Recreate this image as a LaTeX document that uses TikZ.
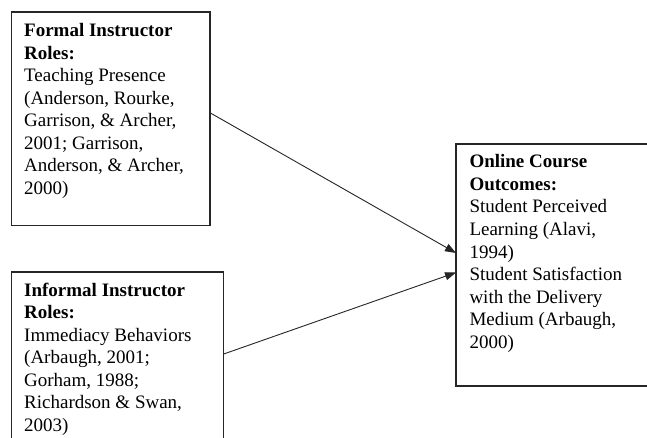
\documentclass[tikz,border=0pt]{standalone}
\usepackage{fontspec}
\setmainfont{Liberation Serif}
\usetikzlibrary{arrows.meta}
\tikzset{
  boxnode/.style={draw=black!85, line width=1.1pt, inner sep=0pt, outer sep=0pt, anchor=north west},
  txtnode/.style={inner sep=0pt, anchor=base west, font=\fontsize{19}{22.5}\selectfont},
  conn/.style={draw=black!85, line width=0.9pt, -{Triangle[length=11pt,width=8pt]}}
}
\newcommand{\boxtext}[1]{\parbox[t]{220pt}{\raggedright #1}}
\begin{document}
\begin{tikzpicture}[x=1pt,y=-1pt]
\fill[white] (0,0) rectangle (647,438);
\useasboundingbox (0,0) rectangle (647,438);
\clip (0,0) rectangle (647,438);
\node[boxnode, minimum width=198.5pt, minimum height=213.5pt] (f) at (11.5,12) {};
\node[boxnode, minimum width=212.2pt, minimum height=180pt] (i) at (11.5,272) {};
\node[boxnode, minimum width=230pt, minimum height=242pt] (o) at (456,144) {};
\node[txtnode] (ft) at (24,36.7) {\boxtext{\textbf{Formal Instructor}\\\textbf{Roles:}\\Teaching Presence\\(Anderson, Rourke,\\Garrison, \& Archer,\\2001; Garrison,\\Anderson, \& Archer,\\2000)}};
\node[txtnode] (it) at (24,296) {\boxtext{\textbf{Informal Instructor}\\\textbf{Roles:}\\Immediacy Behaviors\\(Arbaugh, 2001;\\Gorham, 1988;\\Richardson \& Swan,\\2003)}};
\node[txtnode] (ot) at (469.3,168) {\boxtext{\textbf{Online Course}\\\textbf{Outcomes:}\\Student Perceived\\Learning (Alavi,\\1994)\\Student Satisfaction\\with the Delivery\\Medium (Arbaugh,\\2000)}};
\draw[conn] ([yshift=6pt]f.east) -- ([yshift=12pt]o.west);
\draw[conn] ([yshift=8pt]i.east) -- ([yshift=-7.5pt]o.west);
\end{tikzpicture}
\end{document}
